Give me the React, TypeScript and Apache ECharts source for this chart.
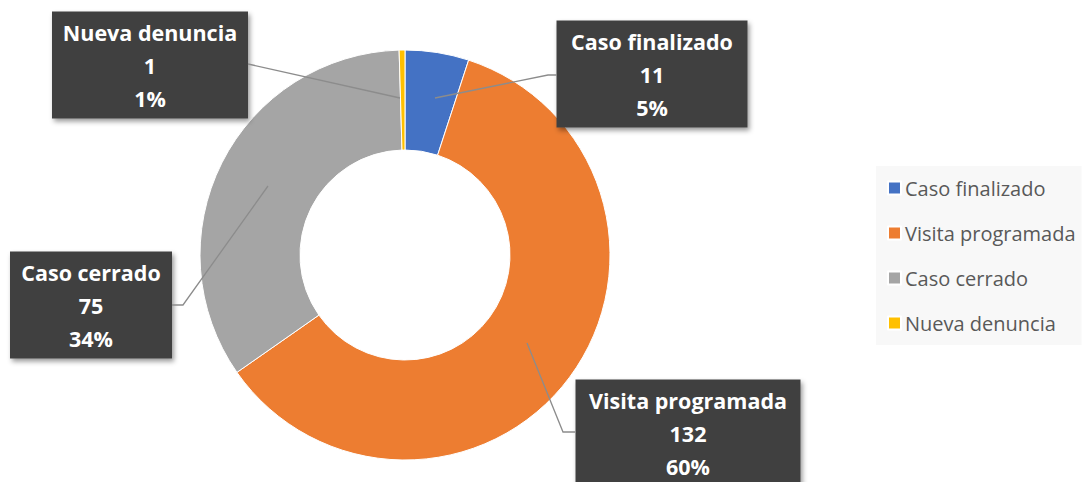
import React, { useEffect, useRef } from "react";
import * as echarts from "echarts";

const categories = ["Caso finalizado", "Visita programada", "Caso cerrado", "Nueva denuncia"];
const values = [11, 132, 75, 1];
const percentLabels = ["5%", "60%", "34%", "1%"];
const colors = ["#4472C4", "#ED7D31", "#A5A5A5", "#FFC000"];

// label box layout (centers, widths) and leader lines — layout only
const labelCenters: [number, number][] = [
  [652, 74],
  [688, 433],
  [91, 305],
  [150, 65],
];
const labelWidths = [191, 225, 162, 196];
const leaderLines: number[][][] = [
  [[435, 98], [548, 75], [557, 75]],
  [[527, 343], [563, 432], [575, 432]],
  [[268, 186], [183, 305], [172, 305]],
  [[400, 98], [248, 64]],
];

const FONT = "'Open Sans', 'Noto Sans', sans-serif";

export default function App() {
  const ref = useRef<HTMLDivElement>(null);
  useEffect(() => {
    if (!ref.current) return;
    const chart = echarts.init(ref.current, undefined, { renderer: "svg" });
    chart.setOption({
      animation: false,
      backgroundColor: "#ffffff",
      legend: {
        orient: "vertical",
        left: 876,
        top: 166,
        padding: [12, 6, 12, 11],
        backgroundColor: "#f8f8f8",
        itemGap: 25,
        itemWidth: 13,
        itemHeight: 13,
        icon: "rect",
        textStyle: { fontFamily: FONT, fontSize: 20, color: "#595959", padding: [0, 0, 0, -1] },
        data: categories,
      },
      graphic: leaderLines.map((pts) => ({
        type: "polyline",
        z: 100,
        shape: { points: pts },
        style: { stroke: "#8c8c8c", lineWidth: 1.3, fill: "none" },
      })),
      series: [
        {
          type: "pie",
          center: [405, 255],
          radius: [105, 205],
          startAngle: 90,
          clockwise: true,
          avoidLabelOverlap: false,
          itemStyle: { borderColor: "#ffffff", borderWidth: 1 },
          data: categories.map((c, i) => ({
            name: c,
            value: values[i],
            itemStyle: { color: colors[i] },
            label: { width: labelWidths[i] - 8 },
          })),
          label: {
            show: true,
            position: "outside",
            overflow: "none",
            formatter: (p: any) =>
              `{t|${p.name}}\n{t|${values[p.dataIndex]}}\n{t|${percentLabels[p.dataIndex]}}`,
            backgroundColor: "#404040",
            padding: [4, 4, 4, 4],
            shadowColor: "rgba(0,0,0,0.4)",
            shadowBlur: 5,
            shadowOffsetX: 2,
            shadowOffsetY: 3,
            align: "center",
            rich: {
              t: {
                fontFamily: FONT,
                fontWeight: "bold",
                fontSize: 21.5,
                lineHeight: 33,
                color: "#ffffff",
                align: "center",
              },
            },
          },
          labelLine: { show: false },
          labelLayout: (params: any) => {
            const i = params.dataIndex;
            return {
              x: labelCenters[i][0],
              y: labelCenters[i][1],
              align: "center",
              verticalAlign: "middle",
            };
          },
        },
      ],
    });
    return () => chart.dispose();
  }, []);
  return (
    <div
      ref={ref}
      style={{ position: "fixed", left: 0, top: 0, width: 1086, height: 482 }}
    />
  );
}
